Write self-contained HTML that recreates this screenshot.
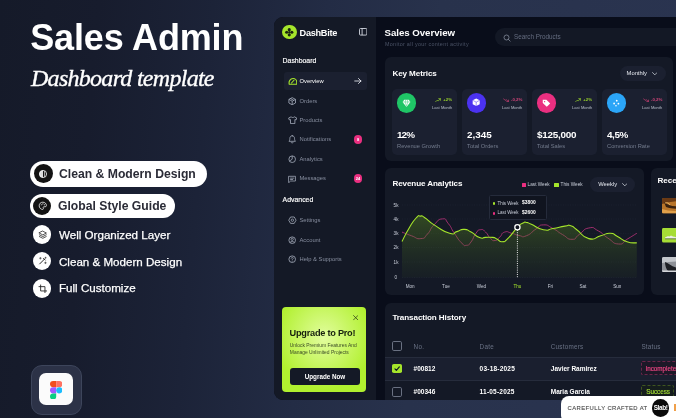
<!DOCTYPE html>
<html>
<head>
<meta charset="utf-8">
<style>
*{margin:0;padding:0;box-sizing:border-box;}
html,body{width:676px;height:418px;overflow:hidden;}
body{font-family:"Liberation Sans",sans-serif;background:#171c2c;position:relative;color:#fff;}
.bg{position:absolute;left:0;top:0;width:676px;height:418px;background:
 linear-gradient(95deg,#151a29 0%,#171c2d 14%,#1c2338 30%,#232c45 46%,#28324c 62%,#2a3450 100%);}
.abs{position:absolute;}
.t{position:absolute;white-space:nowrap;line-height:1;}
/* left */
.title{left:30.2px;top:20px;font-size:36px;font-weight:bold;letter-spacing:-0.15px;}
.sub{left:31px;top:66px;font-family:"Liberation Serif",serif;font-style:italic;font-size:24px;letter-spacing:-0.72px;-webkit-text-stroke:0.35px #fff;}
.pill{position:absolute;border-radius:13px;background:#fff;}
.ic{position:absolute;border-radius:50%;}
.feat{font-size:12.2px;font-weight:bold;color:#2a2b36;}
.feat2{font-size:11.6px;color:#fff;-webkit-text-stroke:0.25px #fff;}
/* panel */
.panel{position:absolute;left:274px;top:17px;width:420px;height:383px;background:#090d1a;border-radius:9px;overflow:hidden;}
.side{position:absolute;left:0;top:0;width:102px;height:383px;background:#141926;}
.card{position:absolute;background:#141926;border-radius:6px;}
.sc{position:absolute;background:#1b2030;border-radius:5px;width:65px;height:66px;top:32.3px;}
.nav{font-size:5.8px;color:#878e9f;}
.sec{font-size:6.9px;color:#fff;-webkit-text-stroke:0.15px #fff;}
.g{color:#7f8799;}
.num{font-size:9.9px;font-weight:bold;color:#fff;}
.lab{font-size:5.75px;color:#747c8e;}
.tiny{font-size:4.1px;}
.ax{font-size:4.6px;color:#c9ced9;}
.th{font-size:6.3px;letter-spacing:0.25px;color:#6a7285;}
.td{font-size:6.5px;color:#fff;font-weight:bold;}
</style>
</head>
<body>
<div id="root" style="position:absolute;left:0;top:0;width:676px;height:418px;overflow:hidden;will-change:transform;">
<div class="bg"></div>

<!-- LEFT TEXT -->
<div class="t title">Sales Admin</div>
<div class="t sub">Dashboard template</div>

<div class="pill" style="left:30px;top:161px;width:177px;height:25.5px;"></div>
<div class="pill" style="left:30px;top:194px;width:145px;height:23.5px;"></div>
<div class="ic" style="left:33.7px;top:164px;width:19px;height:19px;background:#131313;"></div>
<svg class="abs" style="left:38.2px;top:168.5px;" width="10" height="10" viewBox="0 0 20 20"><circle cx="10" cy="10" r="7.2" fill="none" stroke="#fff" stroke-width="1.6"/><path d="M10 2.8 A7.2 7.2 0 0 0 10 17.2 Z" fill="#fff" fill-opacity="0.85"/><line x1="13.2" y1="4" x2="13.2" y2="16" stroke="#fff" stroke-width="1.3"/></svg>
<div class="ic" style="left:33.4px;top:196.6px;width:18px;height:18px;background:#131313;"></div>
<svg class="abs" style="left:37.6px;top:200.8px;" width="9.6" height="9.6" viewBox="0 0 20 20"><path d="M10 2.5 C5 2.5 2.5 6 2.5 10 C2.5 14.5 6 17.5 9.5 17.5 C11.5 17.5 11.8 16 11 14.8 C10.2 13.4 11 12 12.8 12 H15 C16.8 12 17.5 10.8 17.5 9.2 C17.5 5.5 14.5 2.5 10 2.5 Z" fill="none" stroke="#fff" stroke-width="1.6"/><circle cx="6.8" cy="8" r="1.1" fill="#fff"/><circle cx="10.2" cy="6" r="1.1" fill="#fff"/><circle cx="13.8" cy="8" r="1.1" fill="#fff"/></svg>
<div class="ic" style="left:33.2px;top:225.3px;width:18.3px;height:18.3px;background:#fff;"></div>
<svg class="abs" style="left:37.5px;top:229.6px;" width="9.6" height="9.6" viewBox="0 0 20 20"><path d="M10 2.5 L17.5 6.3 L10 10.1 L2.5 6.3 Z M2.8 10 L10 13.7 L17.2 10 M2.8 13.6 L10 17.3 L17.2 13.6" fill="none" stroke="#222" stroke-width="1.6" stroke-linejoin="round" stroke-linecap="round"/></svg>
<div class="ic" style="left:33.2px;top:252px;width:18.3px;height:18.3px;background:#fff;"></div>
<svg class="abs" style="left:37.5px;top:256.3px;" width="9.6" height="9.6" viewBox="0 0 20 20"><path d="M3.5 16.5 L14 6 M11.5 5 L15 8.5" fill="none" stroke="#222" stroke-width="2" stroke-linecap="round"/><path d="M5 3 V6.4 M3.3 4.7 H6.7 M15.5 12.5 V16 M13.8 14.2 H17.2 M15.8 2.5 V4.5 M14.8 3.5 H16.8" stroke="#222" stroke-width="1.2" stroke-linecap="round"/></svg>
<div class="ic" style="left:33.2px;top:279.4px;width:18.3px;height:18.3px;background:#fff;"></div>
<svg class="abs" style="left:37.5px;top:283.7px;" width="9.6" height="9.6" viewBox="0 0 20 20"><path d="M5.5 2 V14.5 H18 M2 5.5 H14.5 V18" fill="none" stroke="#222" stroke-width="1.8" stroke-linecap="round" stroke-linejoin="round"/></svg>
<div class="t feat" style="left:59px;top:167.5px;">Clean &amp; Modern Design</div>
<div class="t feat" style="left:58px;top:199.7px;">Global Style Guide</div>
<div class="t feat2" style="left:59px;top:229px;">Well Organized Layer</div>
<div class="t feat2" style="left:59px;top:255.5px;">Clean &amp; Modern Design</div>
<div class="t feat2" style="left:59px;top:282px;">Full Customize</div>

<!-- figma -->
<div class="abs" style="left:30.5px;top:364.6px;width:51px;height:50.2px;border-radius:11px;background:#2c3247;border:0.8px solid #3d455b;"></div>
<div class="abs" style="left:39.2px;top:373.4px;width:33.6px;height:32px;border-radius:7px;background:#fbfbfb;"></div>
<svg class="abs" style="left:49.6px;top:380.6px;" width="12.4" height="18.6" viewBox="0 0 12 18"><path d="M3 0 H6 V6 H3 A3 3 0 0 1 3 0 Z" fill="#f24e1e"/><path d="M6 0 H9 A3 3 0 0 1 9 6 H6 Z" fill="#ff7262"/><path d="M3 6 H6 V12 H3 A3 3 0 0 1 3 6 Z" fill="#a259ff"/><circle cx="9" cy="9" r="3" fill="#1abcfe"/><path d="M3 12 H6 V15 A3 3 0 1 1 3 12 Z" fill="#0acf83"/></svg>

<!-- PANEL -->
<div class="panel">
  <div class="side"></div>
  <!--SIDEBAR-START-->
  <!-- logo -->
  <div class="ic" style="left:8.3px;top:7.5px;width:14.5px;height:14.5px;background:#a5e52b;"></div>
  <svg class="abs" style="left:8.3px;top:7.5px;" width="14.5" height="14.5" viewBox="0 0 29 29">
    <g fill="#1a2410"><circle cx="14.5" cy="9.3" r="3.1"/><circle cx="14.5" cy="19.7" r="3.1"/><circle cx="9.3" cy="14.5" r="3.1"/><circle cx="19.7" cy="14.5" r="3.1"/><rect x="12.5" y="12.5" width="4" height="4" transform="rotate(45 14.5 14.5)"/></g>
  </svg>
  <div class="t" style="left:25.6px;top:11.9px;font-size:9.2px;font-weight:bold;letter-spacing:-0.3px;">DashBite</div>
  <svg class="abs" style="left:84.5px;top:11px;" width="8.4" height="7.6" viewBox="0 0 8.4 7.6"><rect x="0.5" y="0.5" width="7.4" height="6.6" rx="1" fill="none" stroke="#d5d9e2" stroke-width="0.9"/><line x1="3.1" y1="0.5" x2="3.1" y2="7.1" stroke="#d5d9e2" stroke-width="0.9"/></svg>

  <div class="t sec" style="left:8.6px;top:41.3px;">Dashboard</div>
  <div class="abs" style="left:10px;top:55.4px;width:83px;height:17.3px;background:#1b2030;border-radius:3px;"></div>
  <!-- overview icon -->
  <svg class="abs" style="left:13.5px;top:59.5px;" width="9.5" height="8.5" viewBox="0 0 19 17"><path d="M2.5 14.5 C1 9 4.5 3 10 3 C14.5 3 17.5 6.5 17.5 10.5 L17.5 14.5 Z" fill="none" stroke="#a5e52b" stroke-width="2.2" stroke-linejoin="round"/><path d="M7 12 L12 6.5" stroke="#a5e52b" stroke-width="2.2" stroke-linecap="round"/></svg>
  <div class="t nav" style="left:25.5px;top:61.8px;color:#fff;">Overview</div>
  <svg class="abs" style="left:80px;top:60px;" width="8" height="8" viewBox="0 0 16 16"><path d="M1.5 8 H14 M9 3 L14 8 L9 13" fill="none" stroke="#e8ebf2" stroke-width="1.7" stroke-linecap="round" stroke-linejoin="round"/></svg>

  <!-- orders icon (box) -->
  <svg class="abs" style="left:14px;top:79.6px;" width="8.4" height="8.4" viewBox="0 0 16 16"><path d="M8 1.2 L14.3 4.5 V11.5 L8 14.8 L1.7 11.5 V4.5 Z M1.7 4.5 L8 8 L14.3 4.5 M8 8 V14.8 M4.8 2.9 L11 6.3" fill="none" stroke="#aab1c0" stroke-width="1.5" stroke-linejoin="round"/></svg>
  <div class="t nav" style="left:25.5px;top:81.6px;">Orders</div>
  <!-- products (shirt) -->
  <svg class="abs" style="left:13.5px;top:98.8px;" width="9.4" height="8.4" viewBox="0 0 18 16"><path d="M6 1.5 C7 3.3 11 3.3 12 1.5 L16.8 3.8 L15.5 7.5 L13.2 6.8 V14.5 H4.8 V6.8 L2.5 7.5 L1.2 3.8 Z" fill="none" stroke="#aab1c0" stroke-width="1.5" stroke-linejoin="round"/></svg>
  <div class="t nav" style="left:25.5px;top:100.8px;">Products</div>
  <!-- notifications (bell) -->
  <svg class="abs" style="left:14px;top:118.3px;" width="8.4" height="8.8" viewBox="0 0 16 17"><path d="M8 1.5 C4.8 1.5 3.5 4 3.5 6.5 C3.5 9.5 2.6 11 1.8 12.2 H14.2 C13.4 11 12.5 9.5 12.5 6.5 C12.5 4 11.2 1.5 8 1.5 Z M6 14.6 C6.5 15.8 9.5 15.8 10 14.6" fill="none" stroke="#aab1c0" stroke-width="1.5" stroke-linejoin="round" stroke-linecap="round"/></svg>
  <div class="t nav" style="left:25.5px;top:120.3px;">Notifications</div>
  <div class="ic" style="left:79.8px;top:118.2px;width:8.6px;height:8.6px;background:#ea2f80;"></div>
  <div class="t" style="left:79.8px;top:120.6px;width:8.6px;text-align:center;font-size:4px;font-weight:bold;">8</div>
  <!-- analytics (pie) -->
  <svg class="abs" style="left:14px;top:137.7px;" width="8.4" height="8.4" viewBox="0 0 16 16"><circle cx="8" cy="8" r="6.3" fill="none" stroke="#aab1c0" stroke-width="1.5"/><path d="M8 1.7 V8 L3 11.5" fill="none" stroke="#aab1c0" stroke-width="1.5" stroke-linejoin="round"/></svg>
  <div class="t nav" style="left:25.5px;top:139.7px;">Analytics</div>
  <!-- messages -->
  <svg class="abs" style="left:14px;top:157.5px;" width="8.4" height="8.4" viewBox="0 0 16 16"><path d="M1.8 2.5 H14.2 V11.5 H5 L1.8 14.3 Z M4.8 6 H11.2 M4.8 8.6 H9" fill="none" stroke="#aab1c0" stroke-width="1.4" stroke-linejoin="round" stroke-linecap="round"/></svg>
  <div class="t nav" style="left:25.5px;top:159.3px;">Messages</div>
  <div class="ic" style="left:79.8px;top:157.2px;width:8.6px;height:8.6px;background:#ea2f80;"></div>
  <div class="t" style="left:79.8px;top:159.6px;width:8.6px;text-align:center;font-size:4px;font-weight:bold;">24</div>

  <div class="t sec" style="left:8.6px;top:179.9px;">Advanced</div>
  <!-- settings -->
  <svg class="abs" style="left:13.8px;top:199.3px;" width="8.8" height="8.4" viewBox="0 0 17 16"><path d="M5 1.8 H12 L15.6 8 L12 14.2 H5 L1.4 8 Z" fill="none" stroke="#aab1c0" stroke-width="1.5" stroke-linejoin="round"/><circle cx="8.5" cy="8" r="2.3" fill="none" stroke="#aab1c0" stroke-width="1.4"/></svg>
  <div class="t nav" style="left:25.5px;top:201.2px;">Settings</div>
  <!-- account -->
  <svg class="abs" style="left:14px;top:218.6px;" width="8.4" height="8.4" viewBox="0 0 16 16"><circle cx="8" cy="8" r="6.3" fill="none" stroke="#aab1c0" stroke-width="1.5"/><circle cx="8" cy="6.3" r="2.2" fill="none" stroke="#aab1c0" stroke-width="1.4"/><path d="M3.8 12.6 C5 9.8 11 9.8 12.2 12.6" fill="none" stroke="#aab1c0" stroke-width="1.4"/></svg>
  <div class="t nav" style="left:25.5px;top:220.5px;">Account</div>
  <!-- help -->
  <svg class="abs" style="left:14px;top:238.3px;" width="8.4" height="8.4" viewBox="0 0 16 16"><circle cx="8" cy="8" r="6.3" fill="none" stroke="#aab1c0" stroke-width="1.5"/><path d="M6 6.3 C6 3.8 10 3.8 10 6.3 C10 7.8 8 7.8 8 9.4" fill="none" stroke="#aab1c0" stroke-width="1.4" stroke-linecap="round"/><circle cx="8" cy="11.7" r="0.9" fill="#aab1c0"/></svg>
  <div class="t nav" style="left:25.5px;top:240.2px;">Help &amp; Supports</div>

  <!-- upgrade -->
  <div class="abs" style="left:8.4px;top:289.8px;width:84px;height:85.2px;border-radius:4px;background:radial-gradient(ellipse 48px 52px at 50% 36%,#e2fd9e 0%,#b1f02f 100%);"></div>
  <svg class="abs" style="left:79px;top:298.4px;" width="5.4" height="5.4" viewBox="0 0 10 10"><path d="M1 1 L9 9 M9 1 L1 9" stroke="#2c3a16" stroke-width="1.4" stroke-linecap="round"/></svg>
  <div class="t" style="left:15.6px;top:312px;font-size:9.2px;font-weight:bold;color:#17200e;letter-spacing:-0.25px;">Upgrade to Pro!</div>
  <div class="t" style="left:15.8px;top:327.2px;font-size:4.95px;color:#3a4a25;">Unlock Premium Features And</div>
  <div class="t" style="left:15.8px;top:333.7px;font-size:4.95px;color:#3a4a25;">Manage Unlimited Projects</div>
  <div class="abs" style="left:15.8px;top:350.8px;width:70.4px;height:17.6px;border-radius:3px;background:#141926;"></div>
  <div class="t" style="left:15.8px;top:356.6px;width:70.4px;text-align:center;font-size:6.3px;font-weight:bold;">Upgrade Now</div>
<!--SIDEBAR-END-->
  <!--HEADER-START-->
  <div class="t" style="left:110.6px;top:11.2px;font-size:9.7px;font-weight:bold;letter-spacing:-0.05px;">Sales Overview</div>
  <div class="t" style="left:111px;top:25.2px;font-size:5.4px;letter-spacing:0.3px;color:#4b5366;">Monitor all your content activity</div>
  <div class="abs" style="left:220.5px;top:10.8px;width:220px;height:18.6px;border-radius:9.3px;background:#131825;"></div>
  <svg class="abs" style="left:228.6px;top:16.6px;" width="8" height="8" viewBox="0 0 16 16"><circle cx="7" cy="7" r="5" fill="none" stroke="#8a91a1" stroke-width="1.5"/><path d="M10.8 10.8 L14.3 14.3" stroke="#8a91a1" stroke-width="1.5" stroke-linecap="round"/></svg>
  <div class="t" style="left:240px;top:17.3px;font-size:6.3px;color:#656d80;">Search Products</div>
<!--HEADER-END-->
  <!-- key metrics card -->
  <div class="card" style="left:111px;top:40px;width:288px;height:104px;">
    <div class="sc" style="left:7px;"></div>
    <div class="sc" style="left:77px;"></div>
    <div class="sc" style="left:147px;"></div>
    <div class="sc" style="left:217px;"></div>
    <!--METRICS-START-->
    <div class="t" style="left:7.4px;top:12.6px;font-size:8.1px;font-weight:bold;letter-spacing:-0.1px;">Key Metrics</div>
    <div class="abs" style="left:234.6px;top:8.6px;width:46px;height:15.8px;border-radius:8px;background:#1b2030;"></div>
    <div class="t" style="left:241.6px;top:13.6px;font-size:5.8px;color:#e6e9f0;">Monthly</div>
    <svg class="abs" style="left:266.8px;top:14.8px;" width="5.6" height="3.6" viewBox="0 0 11 7"><path d="M1 1 L5.5 5.6 L10 1" fill="none" stroke="#cfd3dc" stroke-width="1.5" stroke-linecap="round" stroke-linejoin="round"/></svg>

    <!-- card 1 -->
    <div class="ic" style="left:11.7px;top:36px;width:19.6px;height:19.6px;background:#1fc566;"></div>
    <svg class="abs" style="left:17px;top:41.6px;" width="9" height="8.4" viewBox="0 0 18 17"><path d="M4.5 1.5 H13.5 L17 6 L9 16 L1 6 Z" fill="#fff"/><path d="M1 6 H17 M6.3 6 L9 15 L11.7 6 M6.3 6 L7.5 1.5 M11.7 6 L10.5 1.5" fill="none" stroke="#1fc566" stroke-width="0.9"/></svg>
    <svg class="abs" style="left:50.4px;top:40.6px;" width="5.8" height="4.4" viewBox="0 0 12 9"><path d="M1 8 L4.5 4.5 L6.5 6.3 L11 1.5 M7.6 1.3 H11.2 V4.8" fill="none" stroke="#a5e52b" stroke-width="1.3" stroke-linecap="round" stroke-linejoin="round"/></svg>
    <div class="t tiny" style="left:58.2px;top:41px;color:#96cc2c;font-weight:bold;font-size:4.4px;">+2%</div>
    <div class="t tiny" style="left:47px;top:49.4px;color:#b9bfcb;">Last Month</div>
    <div class="t num" style="letter-spacing:-0.9px;left:12px;top:72.8px;">12%</div>
    <div class="t lab" style="left:12px;top:86.8px;">Revenue Growth</div>

    <!-- card 2 -->
    <div class="ic" style="left:81.7px;top:36px;width:19.6px;height:19.6px;background:#4b32f0;"></div>
    <svg class="abs" style="left:87.4px;top:41.4px;" width="8.4" height="8.8" viewBox="0 0 16 17"><path d="M8 1 L14.8 4.4 V12 L8 15.6 L1.2 12 V4.4 Z" fill="#fff"/><path d="M1.2 4.4 L8 8 L14.8 4.4 M8 8 V15.6" fill="none" stroke="#4b32f0" stroke-width="1"/></svg>
    <svg class="abs" style="left:118.4px;top:40.6px;" width="5.8" height="4.4" viewBox="0 0 12 9"><path d="M1 1.5 L4.5 5 L6.5 3.2 L11 7.5 M7.6 7.7 H11.2 V4.2" fill="none" stroke="#e8457f" stroke-width="1.3" stroke-linecap="round" stroke-linejoin="round"/></svg>
    <div class="t tiny" style="left:126px;top:41px;color:#d2457a;font-weight:bold;font-size:4.4px;">-0,2%</div>
    <div class="t tiny" style="left:117px;top:49.4px;color:#b9bfcb;">Last Month</div>
    <div class="t num" style="left:82px;top:72.8px;">2,345</div>
    <div class="t lab" style="left:82px;top:86.8px;">Total Orders</div>

    <!-- card 3 -->
    <div class="ic" style="left:151.7px;top:36px;width:19.6px;height:19.6px;background:#ea2f80;"></div>
    <svg class="abs" style="left:157.2px;top:41.6px;" width="8.8" height="8.4" viewBox="0 0 17 16"><path d="M1.5 1.5 H8.5 L15.8 8.8 L9.2 15 L1.5 7.6 Z" fill="#fff"/><circle cx="5" cy="5" r="1.4" fill="#ea2f80"/></svg>
    <svg class="abs" style="left:190.4px;top:40.6px;" width="5.8" height="4.4" viewBox="0 0 12 9"><path d="M1 8 L4.5 4.5 L6.5 6.3 L11 1.5 M7.6 1.3 H11.2 V4.8" fill="none" stroke="#a5e52b" stroke-width="1.3" stroke-linecap="round" stroke-linejoin="round"/></svg>
    <div class="t tiny" style="left:198.2px;top:41px;color:#96cc2c;font-weight:bold;font-size:4.4px;">+2%</div>
    <div class="t tiny" style="left:187px;top:49.4px;color:#b9bfcb;">Last Month</div>
    <div class="t num" style="letter-spacing:-0.25px;left:152px;top:72.8px;">$125,000</div>
    <div class="t lab" style="left:152px;top:86.8px;">Total Sales</div>

    <!-- card 4 -->
    <div class="ic" style="left:221.7px;top:36px;width:19.6px;height:19.6px;background:#2ba5f7;"></div>
    <svg class="abs" style="left:227.4px;top:41.6px;" width="8.4" height="8.4" viewBox="0 0 16 16"><g fill="#fff"><circle cx="9" cy="3.2" r="1.7"/><circle cx="4" cy="8.6" r="1.7"/><circle cx="12.2" cy="9" r="1.7"/><circle cx="7.6" cy="13" r="1.5"/></g></svg>
    <svg class="abs" style="left:258.4px;top:40.6px;" width="5.8" height="4.4" viewBox="0 0 12 9"><path d="M1 1.5 L4.5 5 L6.5 3.2 L11 7.5 M7.6 7.7 H11.2 V4.2" fill="none" stroke="#e8457f" stroke-width="1.3" stroke-linecap="round" stroke-linejoin="round"/></svg>
    <div class="t tiny" style="left:266px;top:41px;color:#d2457a;font-weight:bold;font-size:4.4px;">-0,2%</div>
    <div class="t tiny" style="left:257px;top:49.4px;color:#b9bfcb;">Last Month</div>
    <div class="t num" style="letter-spacing:-0.4px;left:222px;top:72.8px;">4,5%</div>
    <div class="t lab" style="left:222px;top:86.8px;">Conversion Rate</div>
<!--METRICS-END-->
  </div>
  <!-- revenue card -->
  <div class="card" style="left:111px;top:151px;width:259px;height:127px;">
  <!--CHART-START-->
<svg class="abs" style="left:0;top:0;" width="259" height="127" viewBox="385 168 259 127">
<defs><linearGradient id="gf" x1="0" y1="216" x2="0" y2="278" gradientUnits="userSpaceOnUse"><stop offset="0" stop-color="#5c8a1e" stop-opacity="0.42"/><stop offset="1" stop-color="#3d5c1c" stop-opacity="0.08"/></linearGradient></defs>
<line x1="402" x2="637" y1="205.0" y2="205.0" stroke="#262c3c" stroke-width="0.4" stroke-dasharray="1.2 1.2"/>
<line x1="402" x2="637" y1="219.0" y2="219.0" stroke="#262c3c" stroke-width="0.4" stroke-dasharray="1.2 1.2"/>
<line x1="402" x2="637" y1="233.3" y2="233.3" stroke="#262c3c" stroke-width="0.4" stroke-dasharray="1.2 1.2"/>
<line x1="402" x2="637" y1="247.5" y2="247.5" stroke="#262c3c" stroke-width="0.4" stroke-dasharray="1.2 1.2"/>
<line x1="402" x2="637" y1="262.0" y2="262.0" stroke="#262c3c" stroke-width="0.4" stroke-dasharray="1.2 1.2"/>
<line x1="402" x2="637" y1="277.5" y2="277.5" stroke="#262c3c" stroke-width="0.4" stroke-dasharray="1.2 1.2"/>
<path d="M402.0 232.1 C405.1 233.3 405.0 233.5 411.3 235.7 C417.6 237.9 415.5 239.2 420.9 238.6 C426.3 238.0 423.1 238.6 427.5 234.0 C431.9 229.4 429.0 229.9 434.0 224.9 C439.0 219.9 437.6 219.3 442.4 218.9 C447.2 218.5 444.4 218.9 448.4 223.7 C452.4 228.5 450.0 226.9 454.4 233.3 C458.8 239.7 457.6 238.9 461.6 242.9 C465.6 246.9 463.3 245.6 466.4 245.3 C469.5 245.0 467.8 246.0 471.0 242.0 C474.2 238.0 472.7 237.4 475.9 233.3 C479.1 229.2 477.5 230.1 480.7 229.7 C483.9 229.3 482.3 229.2 485.5 232.0 C488.7 234.8 487.1 235.3 490.3 238.1 C493.5 240.9 491.9 240.9 495.1 240.5 C498.3 240.1 496.6 239.8 499.8 237.0 C503.0 234.2 500.6 233.3 504.6 232.1 C508.6 230.9 507.0 232.2 511.8 233.3 C516.6 234.4 514.1 234.7 519.0 235.5 C523.9 236.3 520.8 237.9 526.5 235.7 C532.2 233.5 530.4 232.6 536.0 229.0 C541.6 225.4 537.7 225.1 543.3 224.9 C548.9 224.7 546.5 225.3 552.9 228.5 C559.3 231.7 556.0 230.9 562.4 234.5 C568.8 238.1 566.4 239.3 572.0 239.3 C577.6 239.3 573.6 238.3 579.2 234.5 C584.8 230.7 582.4 229.2 588.8 228.0 C595.2 226.8 591.9 227.5 598.3 230.9 C604.7 234.3 601.1 233.7 607.9 238.1 C614.7 242.5 612.3 243.6 618.7 244.0 C625.1 244.4 621.0 242.9 627.0 239.3 C633.0 235.7 633.5 235.3 636.8 233.3" fill="none" stroke="#b8347a" stroke-width="0.95" stroke-opacity="0.9"/>
<path d="M402.0 241.4 C404.3 237.1 404.2 236.3 408.9 228.5 C413.6 220.7 412.3 222.1 416.1 218.0 C419.9 213.9 417.5 216.2 420.4 216.1 C423.3 216.0 419.8 214.5 424.8 217.7 C429.8 220.9 427.0 220.4 435.3 225.6 C443.6 230.8 442.4 231.3 449.6 233.3 C456.8 235.3 452.0 232.9 456.8 231.6 C461.6 230.3 459.2 229.2 464.0 229.4 C468.8 229.6 465.9 229.4 471.1 232.1 C476.3 234.8 474.7 235.8 479.5 237.6 C484.3 239.4 481.1 237.5 485.5 237.4 C489.9 237.3 488.9 236.9 492.7 237.4 C496.5 237.9 493.6 237.6 496.8 239.0 C500.0 240.4 498.5 242.0 502.3 241.7 C506.1 241.4 503.2 242.9 508.2 238.1 C513.2 233.3 512.5 232.3 517.4 227.3 C522.3 222.3 520.0 224.6 523.0 223.0 C526.0 221.4 523.7 222.1 526.5 222.5 C529.3 222.9 525.7 221.8 531.3 224.2 C536.9 226.6 536.1 228.3 543.3 229.7 C550.5 231.1 545.7 229.7 552.9 228.5 C560.1 227.3 558.8 227.0 564.8 226.1 C570.8 225.2 566.8 224.6 570.8 225.8 C574.8 227.0 570.8 225.4 576.8 229.7 C582.8 234.0 580.8 236.6 588.8 238.6 C596.8 240.6 593.5 237.5 600.7 235.7 C607.9 233.9 604.7 233.0 610.3 233.3 C615.9 233.6 611.9 233.7 617.5 236.5 C623.1 239.3 620.6 239.6 627.0 241.7 C633.4 243.8 633.5 242.5 636.8 242.9 L636.8 277.5 L402 277.5 Z" fill="url(#gf)"/>
<path d="M402.0 241.4 C404.3 237.1 404.2 236.3 408.9 228.5 C413.6 220.7 412.3 222.1 416.1 218.0 C419.9 213.9 417.5 216.2 420.4 216.1 C423.3 216.0 419.8 214.5 424.8 217.7 C429.8 220.9 427.0 220.4 435.3 225.6 C443.6 230.8 442.4 231.3 449.6 233.3 C456.8 235.3 452.0 232.9 456.8 231.6 C461.6 230.3 459.2 229.2 464.0 229.4 C468.8 229.6 465.9 229.4 471.1 232.1 C476.3 234.8 474.7 235.8 479.5 237.6 C484.3 239.4 481.1 237.5 485.5 237.4 C489.9 237.3 488.9 236.9 492.7 237.4 C496.5 237.9 493.6 237.6 496.8 239.0 C500.0 240.4 498.5 242.0 502.3 241.7 C506.1 241.4 503.2 242.9 508.2 238.1 C513.2 233.3 512.5 232.3 517.4 227.3 C522.3 222.3 520.0 224.6 523.0 223.0 C526.0 221.4 523.7 222.1 526.5 222.5 C529.3 222.9 525.7 221.8 531.3 224.2 C536.9 226.6 536.1 228.3 543.3 229.7 C550.5 231.1 545.7 229.7 552.9 228.5 C560.1 227.3 558.8 227.0 564.8 226.1 C570.8 225.2 566.8 224.6 570.8 225.8 C574.8 227.0 570.8 225.4 576.8 229.7 C582.8 234.0 580.8 236.6 588.8 238.6 C596.8 240.6 593.5 237.5 600.7 235.7 C607.9 233.9 604.7 233.0 610.3 233.3 C615.9 233.6 611.9 233.7 617.5 236.5 C623.1 239.3 620.6 239.6 627.0 241.7 C633.4 243.8 633.5 242.5 636.8 242.9" fill="none" stroke="#a5e52b" stroke-width="1.1"/>
<line x1="517.4" x2="517.4" y1="230" y2="277.5" stroke="#fff" stroke-width="0.9" stroke-dasharray="1 1.2"/>
<circle cx="517.4" cy="227.3" r="2.6" fill="#10141f" stroke="#fff" stroke-width="1.3"/>
</svg>
  <div class="t" style="left:7.4px;top:12.2px;font-size:8.1px;font-weight:bold;letter-spacing:-0.1px;">Revenue Analytics</div>
  <div class="abs" style="left:137px;top:15px;width:4.2px;height:4.2px;background:#ea2f80;border-radius:0.6px;"></div>
  <div class="t tiny" style="left:142.6px;top:14.9px;color:#c9ced9;font-size:4.7px;">Last Week</div>
  <div class="abs" style="left:169.4px;top:15px;width:4.2px;height:4.2px;background:#a5e52b;border-radius:0.6px;"></div>
  <div class="t tiny" style="left:175.6px;top:14.9px;color:#c9ced9;font-size:4.7px;">This Week</div>
  <div class="abs" style="left:205.4px;top:8.6px;width:44.4px;height:15.6px;border-radius:8px;background:#1b2030;"></div>
  <div class="t" style="left:213.2px;top:13.5px;font-size:5.8px;color:#e6e9f0;">Weekly</div>
  <svg class="abs" style="left:236.6px;top:14.8px;" width="5.6" height="3.6" viewBox="0 0 11 7"><path d="M1 1 L5.5 5.6 L10 1" fill="none" stroke="#cfd3dc" stroke-width="1.5" stroke-linecap="round" stroke-linejoin="round"/></svg>
  <!-- y labels -->
  <div class="t ax" style="left:8.6px;top:35.9px;">5k</div>
  <div class="t ax" style="left:8.6px;top:49.9px;">4k</div>
  <div class="t ax" style="left:8.6px;top:64.1px;">3k</div>
  <div class="t ax" style="left:8.6px;top:78.3px;">2k</div>
  <div class="t ax" style="left:8.6px;top:92.9px;">1k</div>
  <div class="t ax" style="left:9.6px;top:108.3px;">0</div>
  <!-- x labels -->
  <div class="t ax" style="left:15.2px;top:117.2px;width:20px;text-align:center;">Mon</div>
  <div class="t ax" style="left:50.9px;top:117.2px;width:20px;text-align:center;">Tue</div>
  <div class="t ax" style="left:86.5px;top:117.2px;width:20px;text-align:center;">Wed</div>
  <div class="t ax" style="left:122.4px;top:117.2px;width:20px;text-align:center;color:#a5e52b;">Thu</div>
  <div class="t ax" style="left:155.4px;top:117.2px;width:20px;text-align:center;">Fri</div>
  <div class="t ax" style="left:187.9px;top:117.2px;width:20px;text-align:center;">Sat</div>
  <div class="t ax" style="left:222.3px;top:117.2px;width:20px;text-align:center;">Sun</div>
  <!-- tooltip -->
  <div class="abs" style="left:103.5px;top:26.8px;width:58px;height:25.4px;background:#10141f;border:0.6px solid #252b3b;border-radius:1.5px;"></div>
  <div class="ic" style="left:108px;top:34.4px;width:2.4px;height:2.4px;background:#a5e52b;"></div>
  <div class="t tiny" style="left:112.4px;top:33.5px;color:#c9ced9;font-size:4.5px;">This Week</div>
  <div class="t tiny" style="left:137px;top:33.3px;color:#fff;font-size:4.9px;font-weight:bold;">$3800</div>
  <div class="ic" style="left:108px;top:44.3px;width:2.4px;height:2.4px;background:#ea2f80;"></div>
  <div class="t tiny" style="left:112.4px;top:43.4px;color:#c9ced9;font-size:4.5px;">Last Week</div>
  <div class="t tiny" style="left:137px;top:43.2px;color:#fff;font-size:4.9px;font-weight:bold;">$2600</div>
<!--CHART-END-->
  </div>
  <!-- recent card -->
  <div class="card" style="left:377px;top:151px;width:60px;height:127px;">
  <!--RECENT-START-->
  <div class="t" style="left:6.6px;top:9.4px;font-size:8.1px;font-weight:bold;letter-spacing:-0.1px;">Recent</div>
  <svg class="abs" style="left:10.5px;top:30.2px;" width="30" height="15.5" viewBox="0 0 30 15.5"><defs><clipPath id="c1"><rect width="30" height="15.5" rx="1.5"/></clipPath></defs><g clip-path="url(#c1)"><rect width="30" height="15.5" fill="#b9752a"/><path d="M0 0 H30 V4 C20 2 10 3 0 6 Z" fill="#6b3a14"/><path d="M2 4 C6 7 10 9 18 8 C22 7.5 26 8 30 9 V12 C22 10 12 12 4 9 Z" fill="#3a2210"/><path d="M0 11 C8 14 20 13 30 11 V15.5 H0 Z" fill="#e0a04a"/><path d="M3 5 C5 4 7 5 8 7" stroke="#f0c070" stroke-width="0.8" fill="none"/></g></svg>
  <svg class="abs" style="left:10.5px;top:60.3px;" width="30" height="14.6" viewBox="0 0 30 14.6"><rect width="30" height="14.6" rx="1.5" fill="#a6dd35"/><path d="M3 9.6 C5 8.6 6 8 7.5 8.4 L9 7.6 L11 8.6 C12.5 9 14 9 15 9.8 V10.6 H3 Z" fill="#e8ece4"/><path d="M3 10.6 H15 V11.2 H3 Z" fill="#55604a"/></svg>
  <svg class="abs" style="left:10.5px;top:88.8px;" width="30" height="15" viewBox="0 0 30 15"><defs><clipPath id="c3"><rect width="30" height="15" rx="1.5"/></clipPath></defs><g clip-path="url(#c3)"><rect width="30" height="15" fill="#8f9298"/><path d="M0 0 H30 V3 C20 5 8 4 0 6 Z" fill="#c4c7cc"/><path d="M3 5 C6 6 9 9 14 10.5 C17 11.3 20 11.5 22 12.5 V14 H6 C4 12 3 8 3 5 Z" fill="#1d1f24"/><path d="M0 13.5 H30 V15 H0 Z" fill="#d5d7db"/></g></svg>
<!--RECENT-END-->
  </div>
  <!-- transactions -->
  <div class="card" style="left:111px;top:286px;width:320px;height:110px;border-radius:6px 6px 0 0;">
  <!--TABLE-START-->
  <div class="t" style="left:7.4px;top:10.6px;font-size:8.1px;font-weight:bold;letter-spacing:-0.1px;">Transaction History</div>
  <!-- header -->
  <div class="abs" style="left:7.4px;top:38.2px;width:9.6px;height:9.6px;border:1px solid #6a7182;border-radius:1.8px;"></div>
  <div class="t th" style="left:28.6px;top:40.6px;">No.</div>
  <div class="t th" style="left:94.6px;top:40.6px;">Date</div>
  <div class="t th" style="left:165.8px;top:40.6px;">Customers</div>
  <div class="t th" style="left:256.4px;top:40.6px;">Status</div>
  <!-- row1 -->
  <div class="abs" style="left:0;top:53.6px;width:320px;height:23px;background:#1a1f2f;border-top:0.6px solid #262c3c;"></div>
  <div class="abs" style="left:7.4px;top:60.6px;width:9.6px;height:9.6px;background:#a5e52b;border-radius:1.8px;"></div>
  <svg class="abs" style="left:9.2px;top:62.6px;" width="6.2" height="5.6" viewBox="0 0 12 11"><path d="M1.8 5.6 L4.6 8.6 L10.4 1.8" fill="none" stroke="#111827" stroke-width="2.3" stroke-linecap="round" stroke-linejoin="round"/></svg>
  <div class="t td" style="left:28.6px;top:62.9px;">#00812</div>
  <div class="t td" style="left:94.6px;top:62.9px;letter-spacing:0.22px;">03-18-2025</div>
  <div class="t td" style="left:165.8px;top:62.9px;">Javier Ramirez</div>
  <div class="abs" style="left:256.4px;top:58px;width:50px;height:14.4px;border:0.6px dashed #6a2549;border-radius:1.5px;background:#1c1827;"></div>
  <div class="t" style="left:260.4px;top:62.9px;font-size:6.3px;color:#e2447f;-webkit-text-stroke:0.2px #e2447f;">Incomplete</div>
  <!-- row2 -->
  <div class="abs" style="left:0;top:77px;width:320px;height:0.6px;background:#262c3c;"></div>
  <div class="abs" style="left:7.4px;top:84.2px;width:9.6px;height:9.6px;border:1px solid #6a7182;border-radius:1.8px;"></div>
  <div class="t td" style="left:28.6px;top:86.4px;">#00346</div>
  <div class="t td" style="left:94.6px;top:86.4px;letter-spacing:0.22px;">11-05-2025</div>
  <div class="t td" style="left:165.8px;top:86.4px;">Maria Garcia</div>
  <div class="abs" style="left:256.4px;top:82px;width:33px;height:13.6px;border:0.6px dashed #3f5520;border-radius:1.5px;background:#151d1d;"></div>
  <div class="t" style="left:261.2px;top:86.4px;font-size:6.3px;color:#9fd832;-webkit-text-stroke:0.2px #9fd832;">Success</div>
<!--TABLE-END-->
  </div>
</div>

<!-- crafted label -->
<div class="abs" style="left:560.8px;top:396.4px;width:130px;height:27px;background:#fff;border-radius:8px;"></div>
<!--CRAFTED-START-->
<div class="t" style="left:567.6px;top:405.5px;font-size:5.9px;letter-spacing:0.4px;color:#4a4a4a;-webkit-text-stroke:0.1px #4a4a4a;">CAREFULLY CRAFTED AT</div>
<div class="ic" style="left:652px;top:399.4px;width:17.3px;height:17.3px;background:#0a0a0a;"></div>
<div class="t" style="left:652px;top:404.9px;width:17.3px;text-align:center;font-size:6.4px;font-weight:bold;letter-spacing:-0.35px;color:#fff;">Slab!</div>
<div class="abs" style="left:673.6px;top:404px;width:4px;height:6.8px;background:#f0a04a;"></div>
<!--CRAFTED-END-->
</div>
</body>
</html>
